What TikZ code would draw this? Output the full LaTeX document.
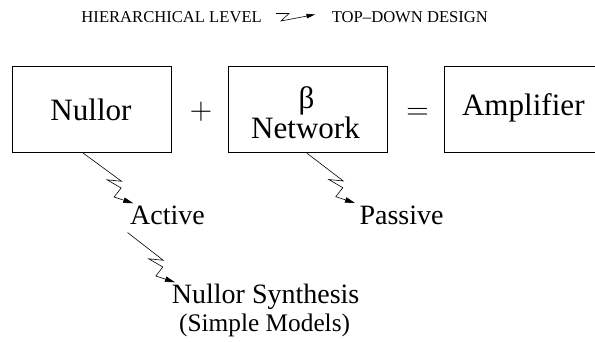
\documentclass[tikz,border=0pt]{standalone}
\usepackage{fontspec}
\usepackage{graphicx}
\setmainfont{Liberation Serif}
\newfontfamily\figserif{Liberation Serif}
\newfontfamily\opfont{Latin Modern Roman}
\usetikzlibrary{calc,arrows.meta}
% every text is set at 28pt and scaled to its printed size
\newcommand\sizedtext[2]{\scalebox{#1}{#2}}
\begin{document}
\begin{tikzpicture}[x=1pt,y=-1pt,
  block/.style={draw,line width=0.9pt,minimum width=159pt,minimum height=86pt,inner sep=0pt},
  plaintext/.style={inner sep=0pt,font=\figserif\fontsize{28}{30}\selectfont},
  optext/.style={inner sep=0pt,anchor=base,font=\opfont\fontsize{28}{30}\selectfont},
  zz/.style={line width=0.6pt,-{Triangle[length=10pt,width=5.5pt]}},
  zzsmall/.style={line width=0.6pt,-{Triangle[length=8.5pt,width=4.5pt]}}]
\useasboundingbox (0,0) rectangle (595,341);

% legend line
\node[plaintext,anchor=base east] (hier) at (262,22.5) {\sizedtext{0.593}{HIERARCHICAL LEVEL}};
\node[plaintext,anchor=base west] (tdd) at (331.7,22.5) {\sizedtext{0.593}{TOP–DOWN DESIGN}};
\draw[zzsmall] ($(hier.base east)+(14,-9)$) -- ++(13,0) -- ++(-8,7.5) -- ++(34,-6.5);

% the three blocks
\node[block] (nullor) at (92.2,109.7) {};
\node[block] (beta) at (307.8,109.7) {};
\node[block] (amp) at (523.8,109.7) {};

\node[plaintext,anchor=base] (nullortxt) at (91,120.5) {\sizedtext{1.11}{Nullor}};
\node[plaintext,anchor=base] (betatxt) at (306.5,108.3) {\sizedtext{1.11}{β}};
\node[plaintext,anchor=base] (nettxt) at (305.5,138.3) {\sizedtext{1.11}{Network}};
\node[plaintext,anchor=base] (amptxt) at (523.3,115.7) {\sizedtext{1.11}{Amplifier}};

% operators between the blocks
\node[optext] (plus) at (201,119) {\sizedtext{1.11}{+}};
\node[optext] (equals) at (417.5,119.7) {\sizedtext{1.11}{=}};

% labels below
\node[plaintext,anchor=base west] (active) at (130,224) {Active};
\node[plaintext,anchor=base west] (passive) at (359.3,224) {Passive};
\node[plaintext,anchor=base west] (nsyn) at (171.7,303) {Nullor Synthesis};
\node[plaintext,anchor=base west] (models) at (179,331.5) {\sizedtext{0.904}{(Simple Models)}};

% lightning arrows
\draw[zz] ($(nullor.south west)+(71,0)$) -- ($(active.base west)+(-8.4,-42.7)$)
  -- ++(-14.5,-1.5) -- ++(14,8.2) -- ++(-7,9) -- ++(19.2,6.3);
\draw[zz] ($(active.base west)+(-2.5,8.5)$) -- ($(nsyn.base west)+(-8.4,-42.7)$)
  -- ++(-14.5,-1.5) -- ++(14,8.2) -- ++(-7,9) -- ++(19.2,6.3);
\draw[zz] ($(beta.south west)+(79,0)$) -- ($(passive.base west)+(-16,-43)$)
  -- ++(-14.5,-1.5) -- ++(14,8.2) -- ++(-7,9) -- ++(19.2,6.3);
\end{tikzpicture}
\end{document}
